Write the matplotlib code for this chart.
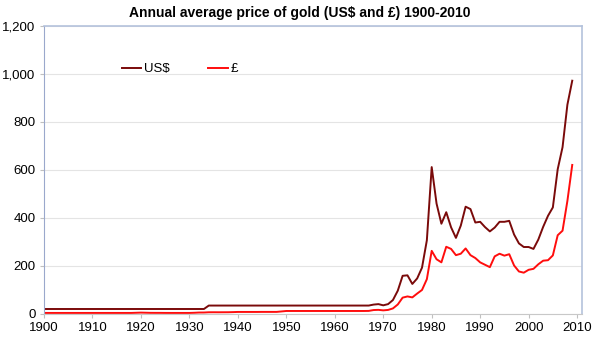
import matplotlib.pyplot as plt
from matplotlib.ticker import FuncFormatter

plt.rcParams['font.family'] = ['Liberation Sans', 'DejaVu Sans']

years = list(range(1900, 2010))

# US$ per troy ounce, annual average
usd = ([20.67] * 34 +                      # 1900-1933
       [35.0] * 34 +                       # 1934-1967
       [39, 41, 36, 41, 58, 97, 159, 161, 125, 148,          # 1968-1977
        193, 307, 612, 460, 376, 424, 361, 317, 368, 447,    # 1978-1987
        437, 381, 384, 362, 344, 360, 384, 384, 388, 331,    # 1988-1997
        294, 279, 279, 271, 310, 363, 409, 444, 603, 695,    # 1998-2007
        872, 972])                                            # 2008-2009

# £ per troy ounce, annual average
gbp = ([4.25] * 15 +                       # 1900-1914
       [4.25, 4.25, 4.25, 4.25, 4.9, 5.6, 5.1, 4.6, 4.5, 4.5,  # 1915-1924
        4.3, 4.25, 4.25, 4.25, 4.25, 4.25, 4.9, 5.9, 6.0, 7.0,  # 1925-1934
        7.1, 7.0, 7.1, 7.2, 7.7, 8.4, 8.4, 8.4, 8.4, 8.4,       # 1935-1944
        8.6, 8.6, 8.6, 8.6, 10.5, 12.4, 12.4, 12.4, 12.4, 12.4,  # 1945-1954
        12.4, 12.4, 12.4, 12.4, 12.4, 12.4, 12.4, 12.4, 12.4, 12.4,  # 1955-1964
        12.4, 12.4, 12.7, 16.3, 17.1, 15.0, 16.8, 23.1, 39.5, 68.0,  # 1965-1974
        73.0, 69.0, 85.0, 100, 145, 263, 228, 215, 280, 271,    # 1975-1984
        245, 251, 273, 245, 233, 215, 205, 195, 240, 251,       # 1985-1994
        243, 249, 202, 177, 172, 184, 188, 207, 222, 224,       # 1995-2004
        244, 328, 347, 471, 621])                                # 2005-2009

fig = plt.figure(figsize=(5.99, 3.42), dpi=100)
ax = fig.add_axes([0.0735, 0.082, 0.898, 0.842])

ax.plot(years, usd, color='#7a0a0a', lw=1.4, label='US$')
ax.plot(years, gbp, color='#ff0d0d', lw=1.4, label='£')

ax.set_xlim(1900, 2011)
ax.set_ylim(0, 1200)
ax.set_xticks(range(1900, 2011, 10))
ax.set_yticks(range(0, 1201, 200))
ax.yaxis.set_major_formatter(FuncFormatter(lambda v, p: f'{int(v):,}'))
ax.grid(axis='y', color='#e4e4e4', lw=0.8)
ax.set_axisbelow(True)

for s in ['top', 'right']:
    ax.spines[s].set_color('#b4c2dc')
    ax.spines[s].set_linewidth(1.2)
ax.spines['left'].set_color('#9aa8cc')
ax.spines['bottom'].set_color('#c8c8c8')
ax.tick_params(axis='both', labelsize=9.5, length=3, color='#c0c0c0', pad=3)

fig.text(0.5, 0.962, 'Annual average price of gold (US$ and £) 1900-2010',
         ha='center', va='center', fontsize=10, fontweight='bold')

ax.legend(loc='center left', bbox_to_anchor=(0.122, 0.85), ncol=2, frameon=False,
          fontsize=9.5, handlelength=1.5, handletextpad=0.2, columnspacing=2.9)

fig.savefig('out.png', dpi=100)
